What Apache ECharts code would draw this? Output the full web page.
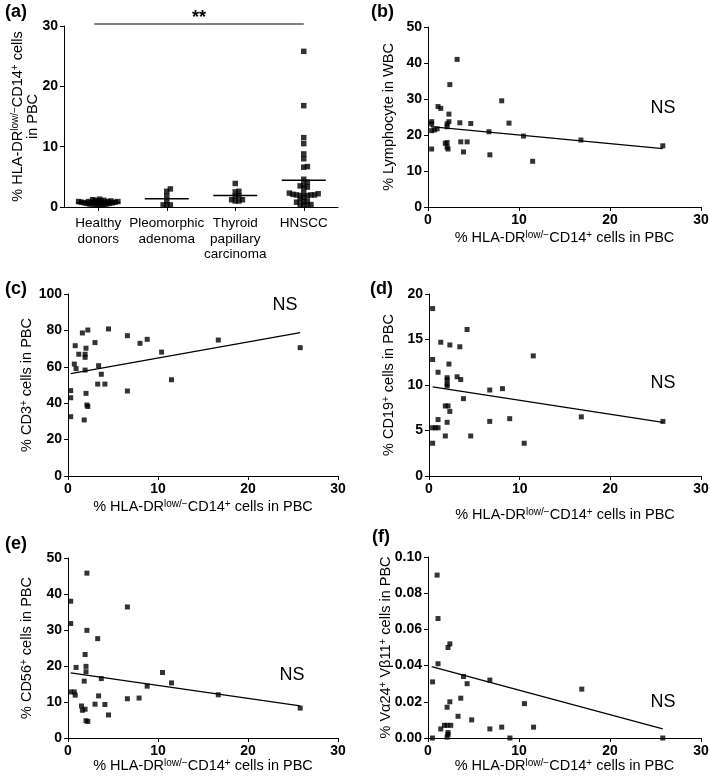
<!DOCTYPE html>
<html><head><meta charset="utf-8">
<script src="https://cdn.jsdelivr.net/npm/echarts@6/dist/echarts.min.js"></script>
<style>html,body{margin:0;padding:0;background:#fff}#c{width:709px;height:782px}</style>
</head><body><div id="c"></div>
<script>
// ---------- data ----------
const groupNames = ['Healthy\ndonors', 'Pleomorphic\nadenoma', 'Thyroid\npapillary\ncarcinoma', 'HNSCC'];
const healthy = [1.3, 1.2, 1.1, 1.1, 1.0, 1.0, 1.0, 0.9, 0.9, 0.9, 0.9, 0.8, 0.8, 0.8, 0.8, 0.8, 0.7, 0.7, 0.7, 0.7, 0.6, 0.6, 0.6, 0.5, 0.5, 0.5, 0.4, 0.4, 0.3, 0.3];
const pleomorphic = [3.0, 2.6, 1.8, 1.05, 0.35, 0.35, 0.35];
const thyroid = [3.9, 2.6, 2.5, 1.9, 1.8, 1.2, 1.0, 1.0, 1.2];
const hnscc = [25.8, 16.8, 11.5, 10.5, 8.8, 8.0, 6.7, 6.6, 4.6, 4.1, 3.7, 3.5, 3.3, 3.1, 2.3, 2.2, 2.2, 2.1, 2.0, 2.0, 2.0, 1.9, 1.9, 1.6, 1.2, 1.0, 0.9, 0.8, 0.4, 0.3, 0.3, 0.3];

const bX = [3.2, 2.4, 8.1, 1.1, 1.4, 2.3, 0.4, 0.4, 2.3, 2.1, 2.1, 3.5, 4.7, 8.9, 0.4, 0.7, 1.0, 6.7, 10.5, 16.8, 1.9, 2.1, 3.6, 4.3, 0.4, 2.1, 2.2, 3.9, 6.8, 11.5, 25.8];
const bY = [41.0, 34.0, 29.5, 27.9, 27.4, 25.8, 23.7, 23.1, 23.7, 23.1, 22.3, 23.4, 23.2, 23.3, 21.2, 21.4, 21.7, 20.9, 19.7, 18.6, 17.7, 17.9, 18.1, 18.1, 16.1, 16.6, 16.1, 15.3, 14.5, 12.7, 17.0];
const bFit = [[0.3, 22.3], [25.8, 16.2]];

const cX = [1.6, 2.2, 4.5, 6.6, 8.0, 8.8, 3.0, 16.7, 0.8, 2.0, 1.9, 1.9, 1.2, 10.4, 0.7, 0.9, 1.9, 3.4, 3.7, 3.3, 4.1, 11.5, 0.3, 0.3, 6.6, 2.0, 2.1, 2.2, 0.3, 1.8, 25.8];
const cY = [78.6, 80.2, 80.8, 77.1, 72.9, 75.1, 73.3, 74.7, 71.6, 70.2, 66.9, 65.2, 66.9, 68.1, 61.5, 59.0, 58.2, 60.6, 55.9, 50.5, 50.5, 52.9, 46.9, 43.0, 46.7, 45.4, 39.0, 38.2, 32.6, 30.8, 70.5];
const cFit = [[0.3, 56.2], [25.8, 78.8]];

const dX = [0.4, 4.2, 1.3, 2.3, 3.4, 11.5, 0.4, 2.2, 1.0, 2.0, 2.0, 2.0, 2.0, 3.1, 3.5, 6.7, 8.1, 3.8, 1.8, 2.1, 2.3, 16.8, 8.9, 1.0, 6.7, 2.0, 0.4, 0.7, 1.0, 1.8, 4.6, 0.4, 10.5, 25.8];
const dY = [18.4, 16.1, 14.7, 14.4, 14.2, 13.2, 12.8, 12.3, 11.4, 10.8, 10.55, 10.1, 9.9, 10.9, 10.6, 9.45, 9.6, 8.5, 7.7, 7.7, 7.1, 6.5, 6.3, 6.2, 6.0, 5.9, 5.3, 5.3, 5.3, 4.4, 4.4, 3.6, 3.6, 6.0];
const dFit = [[0.4, 9.8], [25.8, 5.9]];

const eX = [2.1, 0.3, 6.6, 0.3, 2.1, 3.3, 1.9, 0.9, 2.0, 2.0, 3.7, 10.5, 11.5, 1.8, 8.8, 16.7, 0.3, 0.7, 0.8, 3.4, 6.6, 7.9, 1.5, 3.0, 4.1, 1.6, 1.9, 4.5, 2.0, 2.2, 25.8];
const eY = [45.8, 38.0, 36.4, 31.8, 29.9, 27.6, 23.2, 19.6, 19.9, 18.4, 16.5, 18.2, 15.3, 15.8, 14.4, 12.0, 12.8, 12.8, 11.9, 11.7, 10.9, 11.1, 8.9, 9.4, 9.3, 7.7, 8.0, 6.4, 4.8, 4.6, 8.3];
const eFit = [[0.3, 18.1], [25.8, 8.9]];

const fX = [1.0, 1.1, 2.4, 2.2, 1.1, 3.9, 6.8, 0.5, 4.3, 16.9, 3.6, 2.4, 10.6, 2.1, 3.3, 4.8, 1.8, 2.1, 2.5, 1.4, 6.8, 8.1, 11.6, 2.2, 2.2, 2.1, 0.5, 9.0, 25.8];
const fY = [0.090, 0.066, 0.052, 0.050, 0.041, 0.034, 0.032, 0.031, 0.030, 0.027, 0.022, 0.020, 0.019, 0.017, 0.012, 0.010, 0.007, 0.007, 0.007, 0.005, 0.005, 0.006, 0.006, 0.003, 0.002, 0.0005, 0, 0, 0];
const fFit = [[0.4, 0.0395], [25.8, 0.005]];

const yTicksA = [0, 30, 10];
const xTicks = [0, 30, 10];

// ---------- helpers ----------
const F = '"Liberation Sans", Arial, Helvetica, sans-serif';
const rich = {
  t: {fontFamily: F, fontSize: 14.5, color: '#000'},
  s: {fontFamily: F, fontSize: 10, color: '#000', verticalAlign: 'top', lineHeight: 7}
};
const hlaTitle = '{t|% HLA-DR}{s|low/\u2212}{t|CD14}{s|+}{t| cells in PBC}';

const grids = [
  {left: 64, top: 26, width: 274, height: 181},
  {left: 428, top: 27, width: 273, height: 180},
  {left: 68, top: 294, width: 270, height: 182},
  {left: 429, top: 294, width: 272, height: 182},
  {left: 68, top: 558, width: 270, height: 180},
  {left: 428, top: 557, width: 273, height: 181}
].map(g => Object.assign({outerBoundsMode: 'none', containLabel: false}, g));

function axisBase(extra) {
  return Object.assign({
    axisLine: {show: true, onZero: false, lineStyle: {color: '#000', width: 1}},
    axisTick: {show: true, length: 4, lineStyle: {color: '#000', width: 1}},
    axisLabel: {color: '#000', fontFamily: F, fontSize: 14, fontWeight: 'bold', margin: 6},
    splitLine: {show: false},
    nameLocation: 'middle',
    nameTextStyle: {rich: rich},
    nameMoveOverlap: false
  }, extra);
}
function xVal(i, gap) {
  return axisBase({type: 'value', gridIndex: i, min: xTicks[0], max: xTicks[1], interval: xTicks[2], name: hlaTitle, nameGap: gap});
}
function yVal(i, min, max, interval, name, gap, fmt) {
  const a = axisBase({type: 'value', gridIndex: i, min: min, max: max, interval: interval, name: name, nameGap: gap});
  if (fmt) a.axisLabel = Object.assign({}, a.axisLabel, {formatter: fmt});
  return a;
}

// beeswarm offsets (pixel) so overlapping dots spread sideways
function swarm(vals, pxPerUnit, minDist, step) {
  const idx = vals.map((v, i) => i).sort((a, b) => vals[a] - vals[b]);
  const placed = [];
  const off = new Array(vals.length).fill(0);
  idx.forEach(i => {
    const y = vals[i] * pxPerUnit;
    for (let k = 0; k < 200; k++) {
      const cand = k === 0 ? 0 : (k % 2 ? 1 : -1) * Math.ceil(k / 2) * step;
      if (placed.every(p => Math.hypot(p.x - cand, p.y - y) >= minDist)) {
        off[i] = cand; placed.push({x: cand, y: y}); break;
      }
    }
  });
  return off;
}
const pxA = grids[0].height / (yTicksA[1] - yTicksA[0]);
const groups = [healthy, pleomorphic, thyroid, hnscc];
const aData = [];
groups.forEach((vals, gi) => {
  const off = gi === 0 ? swarm(vals, pxA, 2.2, 1.4) : swarm(vals, pxA, 3.6, 1.8);
  vals.forEach((v, j) => aData.push({value: [gi, v], symbolOffset: [off[j], 0]}));
});
const means = groups.map((vals, gi) => [gi, vals.reduce((s, v) => s + v, 0) / vals.length]);

function pairs(xs, ys) { return xs.map((x, i) => [x, ys[i]]); }
function scat(i, xs, ys) {
  return {type: 'scatter', xAxisIndex: i, yAxisIndex: i, data: pairs(xs, ys), symbol: 'rect', symbolSize: 5,
    itemStyle: {color: '#000'}, silent: true, z: 3};
}
function fit(i, pts) {
  return {type: 'line', xAxisIndex: i, yAxisIndex: i, data: pts, symbol: 'none',
    lineStyle: {color: '#000', width: 1.3}, silent: true, z: 2};
}

const chart = echarts.init(document.getElementById('c'), null, {renderer: 'canvas'});
const option = {
  animation: false,
  backgroundColor: '#fff',
  grid: grids,
  xAxis: [
    axisBase({type: 'category', gridIndex: 0, data: groupNames,
      axisTick: {show: true, alignWithLabel: true, length: 4, lineStyle: {color: '#000'}},
      axisLabel: {color: '#000', fontFamily: F, fontSize: 13.5, lineHeight: 15.5, margin: 9, interval: 0}}),
    xVal(1, 23), xVal(2, 23), xVal(3, 31), xVal(4, 20), xVal(5, 20)
  ],
  yAxis: [
    yVal(0, yTicksA[0], yTicksA[1], yTicksA[2], '{t|% HLA-DR}{s|low/\u2212}{t|CD14}{s|+}{t| cells}\n{t|in PBC}', 24),
    yVal(1, 0, 50, 10, '{t|% Lymphocyte in WBC}', 32),
    yVal(2, 0, 100, 20, '{t|% CD3}{s|+}{t| cells in PBC}', 34),
    yVal(3, 0, 20, 5, '{t|% CD19}{s|+}{t| cells in PBC}', 33),
    yVal(4, 0, 50, 10, '{t|% CD56}{s|+}{t| cells in PBC}', 34),
    yVal(5, 0, 0.1, 0.02, '{t|% V\u03b124}{s|+}{t| V\u03b211}{s|+}{t| cells in PBC}', 35, v => v.toFixed(2))
  ],
  series: [
    {type: 'scatter', xAxisIndex: 0, yAxisIndex: 0, data: aData, symbol: 'rect', symbolSize: 5.5,
      itemStyle: {color: '#000'}, silent: true, z: 3},
    {type: 'custom', xAxisIndex: 0, yAxisIndex: 0, data: means, z: 4, silent: true,
      renderItem: function (params, api) {
        const p = api.coord([api.value(0), api.value(1)]);
        return {type: 'line', shape: {x1: p[0] - 22, y1: p[1], x2: p[0] + 22, y2: p[1]},
          style: {stroke: '#000', lineWidth: 1.5}};
      }},
    scat(1, bX, bY), fit(1, bFit),
    scat(2, cX, cY), fit(2, cFit),
    scat(3, dX, dY), fit(3, dFit),
    scat(4, eX, eY), fit(4, eFit),
    scat(5, fX, fY), fit(5, fFit)
  ]
};
chart.setOption(option);

// annotations
function label(txt, x, y) {
  return {type: 'text', x: x, y: y, style: {text: txt, font: 'bold 18px ' + F, fill: '#000', align: 'left', verticalAlign: 'top'}};
}
function ns(x, y) {
  return {type: 'text', x: x, y: y, style: {text: 'NS', font: '18px ' + F, fill: '#000', align: 'center', verticalAlign: 'middle'}};
}
const p0 = chart.convertToPixel({xAxisIndex: 0, yAxisIndex: 0}, [0, 30]);
const p3 = chart.convertToPixel({xAxisIndex: 0, yAxisIndex: 0}, [3, 30]);
chart.setOption({
  graphic: [
    label('(a)', 5, 3), label('(b)', 371, 3), label('(c)', 5, 280),
    label('(d)', 370, 280), label('(e)', 5, 535), label('(f)', 372, 528),
    ns(663, 108), ns(285, 305), ns(663, 383), ns(292, 675), ns(663, 702),
    {type: 'line', shape: {x1: p0[0] - 4, y1: p0[1] - 2, x2: p3[0], y2: p3[1] - 2}, style: {stroke: '#000', lineWidth: 1}},
    {type: 'text', x: (p0[0] + p3[0]) / 2 - 2, y: 18, style: {text: '**', font: 'bold 18px ' + F, fill: '#000', align: 'center', verticalAlign: 'middle'}}
  ]
});
</script>
</body></html>
